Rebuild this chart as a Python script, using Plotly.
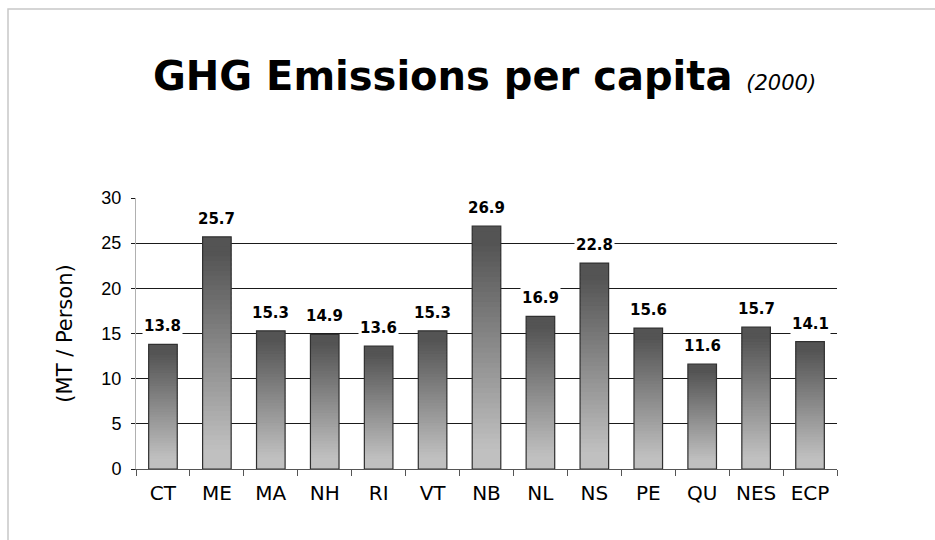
import plotly.graph_objects as go
import numpy as np

categories = ["CT", "ME", "MA", "NH", "RI", "VT", "NB", "NL", "NS", "PE", "QU", "NES", "ECP"]
values = [13.8, 25.7, 15.3, 14.9, 13.6, 15.3, 26.9, 16.9, 22.8, 15.6, 11.6, 15.7, 14.1]
y_ticks = [0, 5, 10, 15, 20, 25, 30]

fig = go.Figure()

N = 48
vals = np.array(values)
for k in range(N):
    t = (k + 0.5) / N
    s = min(max((t - 0.08) / 0.85, 0.0), 1.0)
    g = int(round(192 - (192 - 84) * s))
    h = vals / N * (1.0 if k == N - 1 else 1.6)
    fig.add_trace(go.Bar(
        x=categories, y=h, base=vals * k / N,
        marker=dict(color=f"rgb({g},{g},{g})", line=dict(width=0)),
        width=0.53, hoverinfo="skip", showlegend=False,
    ))

fig.add_trace(go.Bar(
    x=categories, y=values,
    marker=dict(color="rgba(0,0,0,0)", line=dict(color="#303030", width=1.2)),
    width=0.53, showlegend=False,
))

for c, v in zip(categories, values):
    fig.add_annotation(
        x=c, y=v, xref="x", yref="y", text=f"{v:.1f}",
        showarrow=False, yanchor="bottom", yshift=7,
        font=dict(family="DejaVu Sans", size=15, color="black", weight="bold"),
        bgcolor="white", borderpad=1,
    )

fig.add_shape(type="line", xref="paper", yref="y", x0=0, x1=1, y0=15, y1=15,
              line=dict(color="#a8a8a8", width=1), layer="below")

# outer frame
fig.add_shape(type="rect", xref="paper", yref="paper",
              x0=-128/701, x1=1 + 110/701, y0=-80/271, y1=1 + 189/271,
              line=dict(color="#c8c8c8", width=1.5), layer="below")

fig.add_annotation(
    xref="paper", yref="paper", x=(484 - 136) / 701, y=1 + 122/271, yanchor="middle",
    text="GHG Emissions per capita <i><span style='font-size:21px;font-weight:normal'>(2000)</span></i>",
    showarrow=False,
    font=dict(family="DejaVu Sans", size=40, color="black", weight="bold"),
)

fig.update_layout(
    width=935, height=540,
    margin=dict(l=136, r=98, t=198, b=71),
    paper_bgcolor="white", plot_bgcolor="white",
    barmode="overlay",
    xaxis=dict(
        type="category", showline=True, linecolor="#555555", linewidth=1,
        ticks="outside", tickson="boundaries", ticklen=6, tickcolor="#555555",
        showgrid=False, ticklabelstandoff=6,
        tickfont=dict(family="DejaVu Sans", size=20, color="black"),
    ),
    yaxis=dict(
        range=[0, 30], tickvals=y_ticks, showgrid=True, gridcolor="#1a1a1a",
        gridwidth=1, showline=True, linecolor="#b0b0b0", linewidth=1,
        ticks="outside", ticklen=4, tickcolor="#1a1a1a", zeroline=False,
        ticklabelstandoff=6,
        tickfont=dict(family="Liberation Sans", size=18, color="black"),
        title=dict(text="(MT / Person)", standoff=23,
                   font=dict(family="DejaVu Sans", size=21, color="black")),
    ),
)

fig.write_html("out.html")
